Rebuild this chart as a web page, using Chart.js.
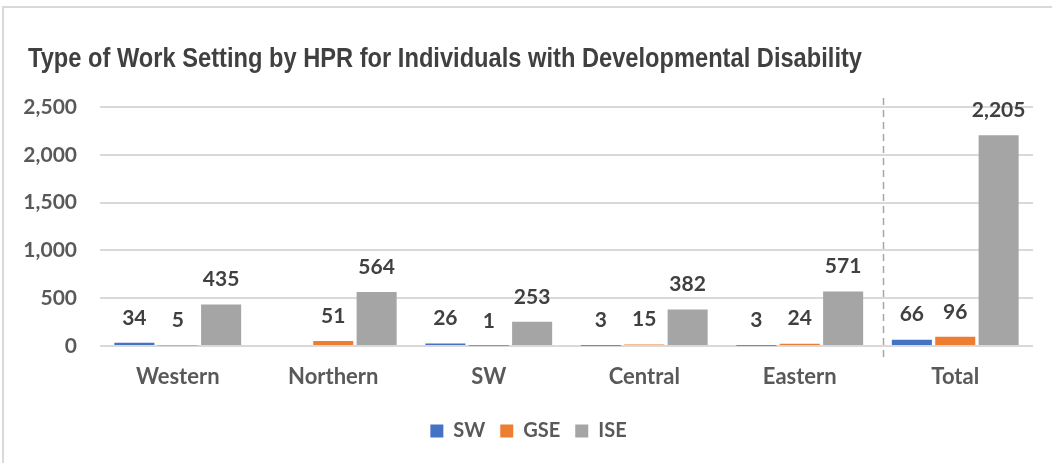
<!DOCTYPE html>
<html>
<head>
<meta charset="utf-8">
<script src="https://cdn.jsdelivr.net/npm/chart.js@4"></script>
<style>
  html, body { margin: 0; padding: 0; background: #fff; }
  #wrap {
    position: absolute; left: 2px; top: 6px;
    width: 1050px; height: 457px;
    border-top: 2px solid #d9d9d9; border-left: 2px solid #d9d9d9;
    box-sizing: border-box;
  }
  #frame { position: absolute; left: 0; top: 0; width: 1052px; height: 463px; }
</style>
</head>
<body>
<div id="wrap"></div>
<div id="frame"><canvas id="chart"></canvas></div>
<script>
/* ── Data ─────────────────────────────────────────────────────────────── */
const TITLE      = 'Type of Work Setting by HPR for Individuals with Developmental Disability';
const REGIONS    = ['Western', 'Northern', 'SW', 'Central', 'Eastern', 'Total'];
const SW_VALUES  = [34, null, 26, 3, 3, 66];
const GSE_VALUES = [5, 51, 1, 15, 24, 96];
const ISE_VALUES = [435, 564, 253, 382, 571, 2205];
const Y_TICKS    = [0, 500, 1000, 1500, 2000, 2500];

const FONT = 'Lato, "Open Sans", sans-serif';
const fmt  = v => v.toLocaleString('en-US');

/* ── Plugins ──────────────────────────────────────────────────────────── */
// narrow bold title, squeezed horizontally like the condensed original
const narrowTitle = {
  id: 'narrowTitle',
  afterDraw(chart) {
    const { ctx } = chart;
    ctx.save();
    ctx.font = 'bold 28px "Liberation Sans", Arial, sans-serif';
    ctx.fillStyle = '#404040';
    ctx.textBaseline = 'alphabetic';
    const w = ctx.measureText(TITLE).width;
    ctx.translate(28, 67);
    ctx.scale(834 / w, 1);
    ctx.fillText(TITLE, 0, 0);
    ctx.restore();
  }
};

// bold value labels sitting above each bar
const valueLabels = {
  id: 'valueLabels',
  afterDatasetsDraw(chart) {
    const { ctx } = chart;
    ctx.save();
    ctx.font = `bold 21px ${FONT}`;
    ctx.fillStyle = '#404040';
    ctx.textAlign = 'center';
    ctx.textBaseline = 'middle';
    chart.data.datasets.forEach((ds, di) => {
      chart.getDatasetMeta(di).data.forEach((bar, i) => {
        const v = ds.data[i];
        if (v == null) return;
        ctx.fillText(fmt(v), bar.x, bar.y - 25);
      });
    });
    ctx.restore();
  }
};

// dashed divider between the regions and the total
const totalDivider = {
  id: 'totalDivider',
  afterDraw(chart) {
    const { ctx, chartArea, scales: { x } } = chart;
    const px = (x.getPixelForValue(4) + x.getPixelForValue(5)) / 2 + 5;
    ctx.save();
    ctx.strokeStyle = '#a6a6a6';
    ctx.lineWidth = 1.5;
    ctx.setLineDash([7, 5]);
    ctx.beginPath();
    ctx.moveTo(Math.round(px) + 0.5, chartArea.top - 9);
    ctx.lineTo(Math.round(px) + 0.5, chartArea.bottom + 12);
    ctx.stroke();
    ctx.restore();
  }
};

/* ── Chart ────────────────────────────────────────────────────────────── */
new Chart(document.getElementById('chart'), {
  type: 'bar',
  data: {
    labels: REGIONS,
    datasets: [
      { label: 'SW',  data: SW_VALUES,  backgroundColor: '#4472C4' },
      { label: 'GSE', data: GSE_VALUES, backgroundColor: '#ED7D31' },
      { label: 'ISE', data: ISE_VALUES, backgroundColor: '#A5A5A5' }
    ]
  },
  options: {
    responsive: true,
    maintainAspectRatio: false,
    animation: false,
    layout: { padding: { left: 24, right: 19, top: 107, bottom: 12 } },
    datasets: { bar: { categoryPercentage: 0.837, barPercentage: 0.923 } },
    plugins: {
      title: { display: false },
      legend: {
        position: 'bottom',
        labels: {
          boxWidth: 13, boxHeight: 13, padding: 15,
          color: '#595959',
          font: { family: FONT, size: 20, weight: 'bold' }
        }
      },
      tooltip: { enabled: false }
    },
    scales: {
      x: {
        grid: { display: false, drawTicks: false },
        border: { display: false },
        afterFit: s => { s.height = 60; },
        ticks: { color: '#595959', padding: 18, font: { family: FONT, size: 22, weight: 'bold' } }
      },
      y: {
        min: 0, max: 2500,
        afterBuildTicks: s => { s.ticks = Y_TICKS.map(v => ({ value: v })); },
        afterFit: s => { s.width = 76; },
        grid: { color: '#d9d9d9', lineWidth: 2, drawTicks: false },
        border: { display: false },
        ticks: {
          color: '#595959', padding: 23,
          font: { family: FONT, size: 21, weight: 'bold' },
          callback: v => fmt(v)
        }
      }
    }
  },
  plugins: [narrowTitle, valueLabels, totalDivider]
});
</script>
</body>
</html>
